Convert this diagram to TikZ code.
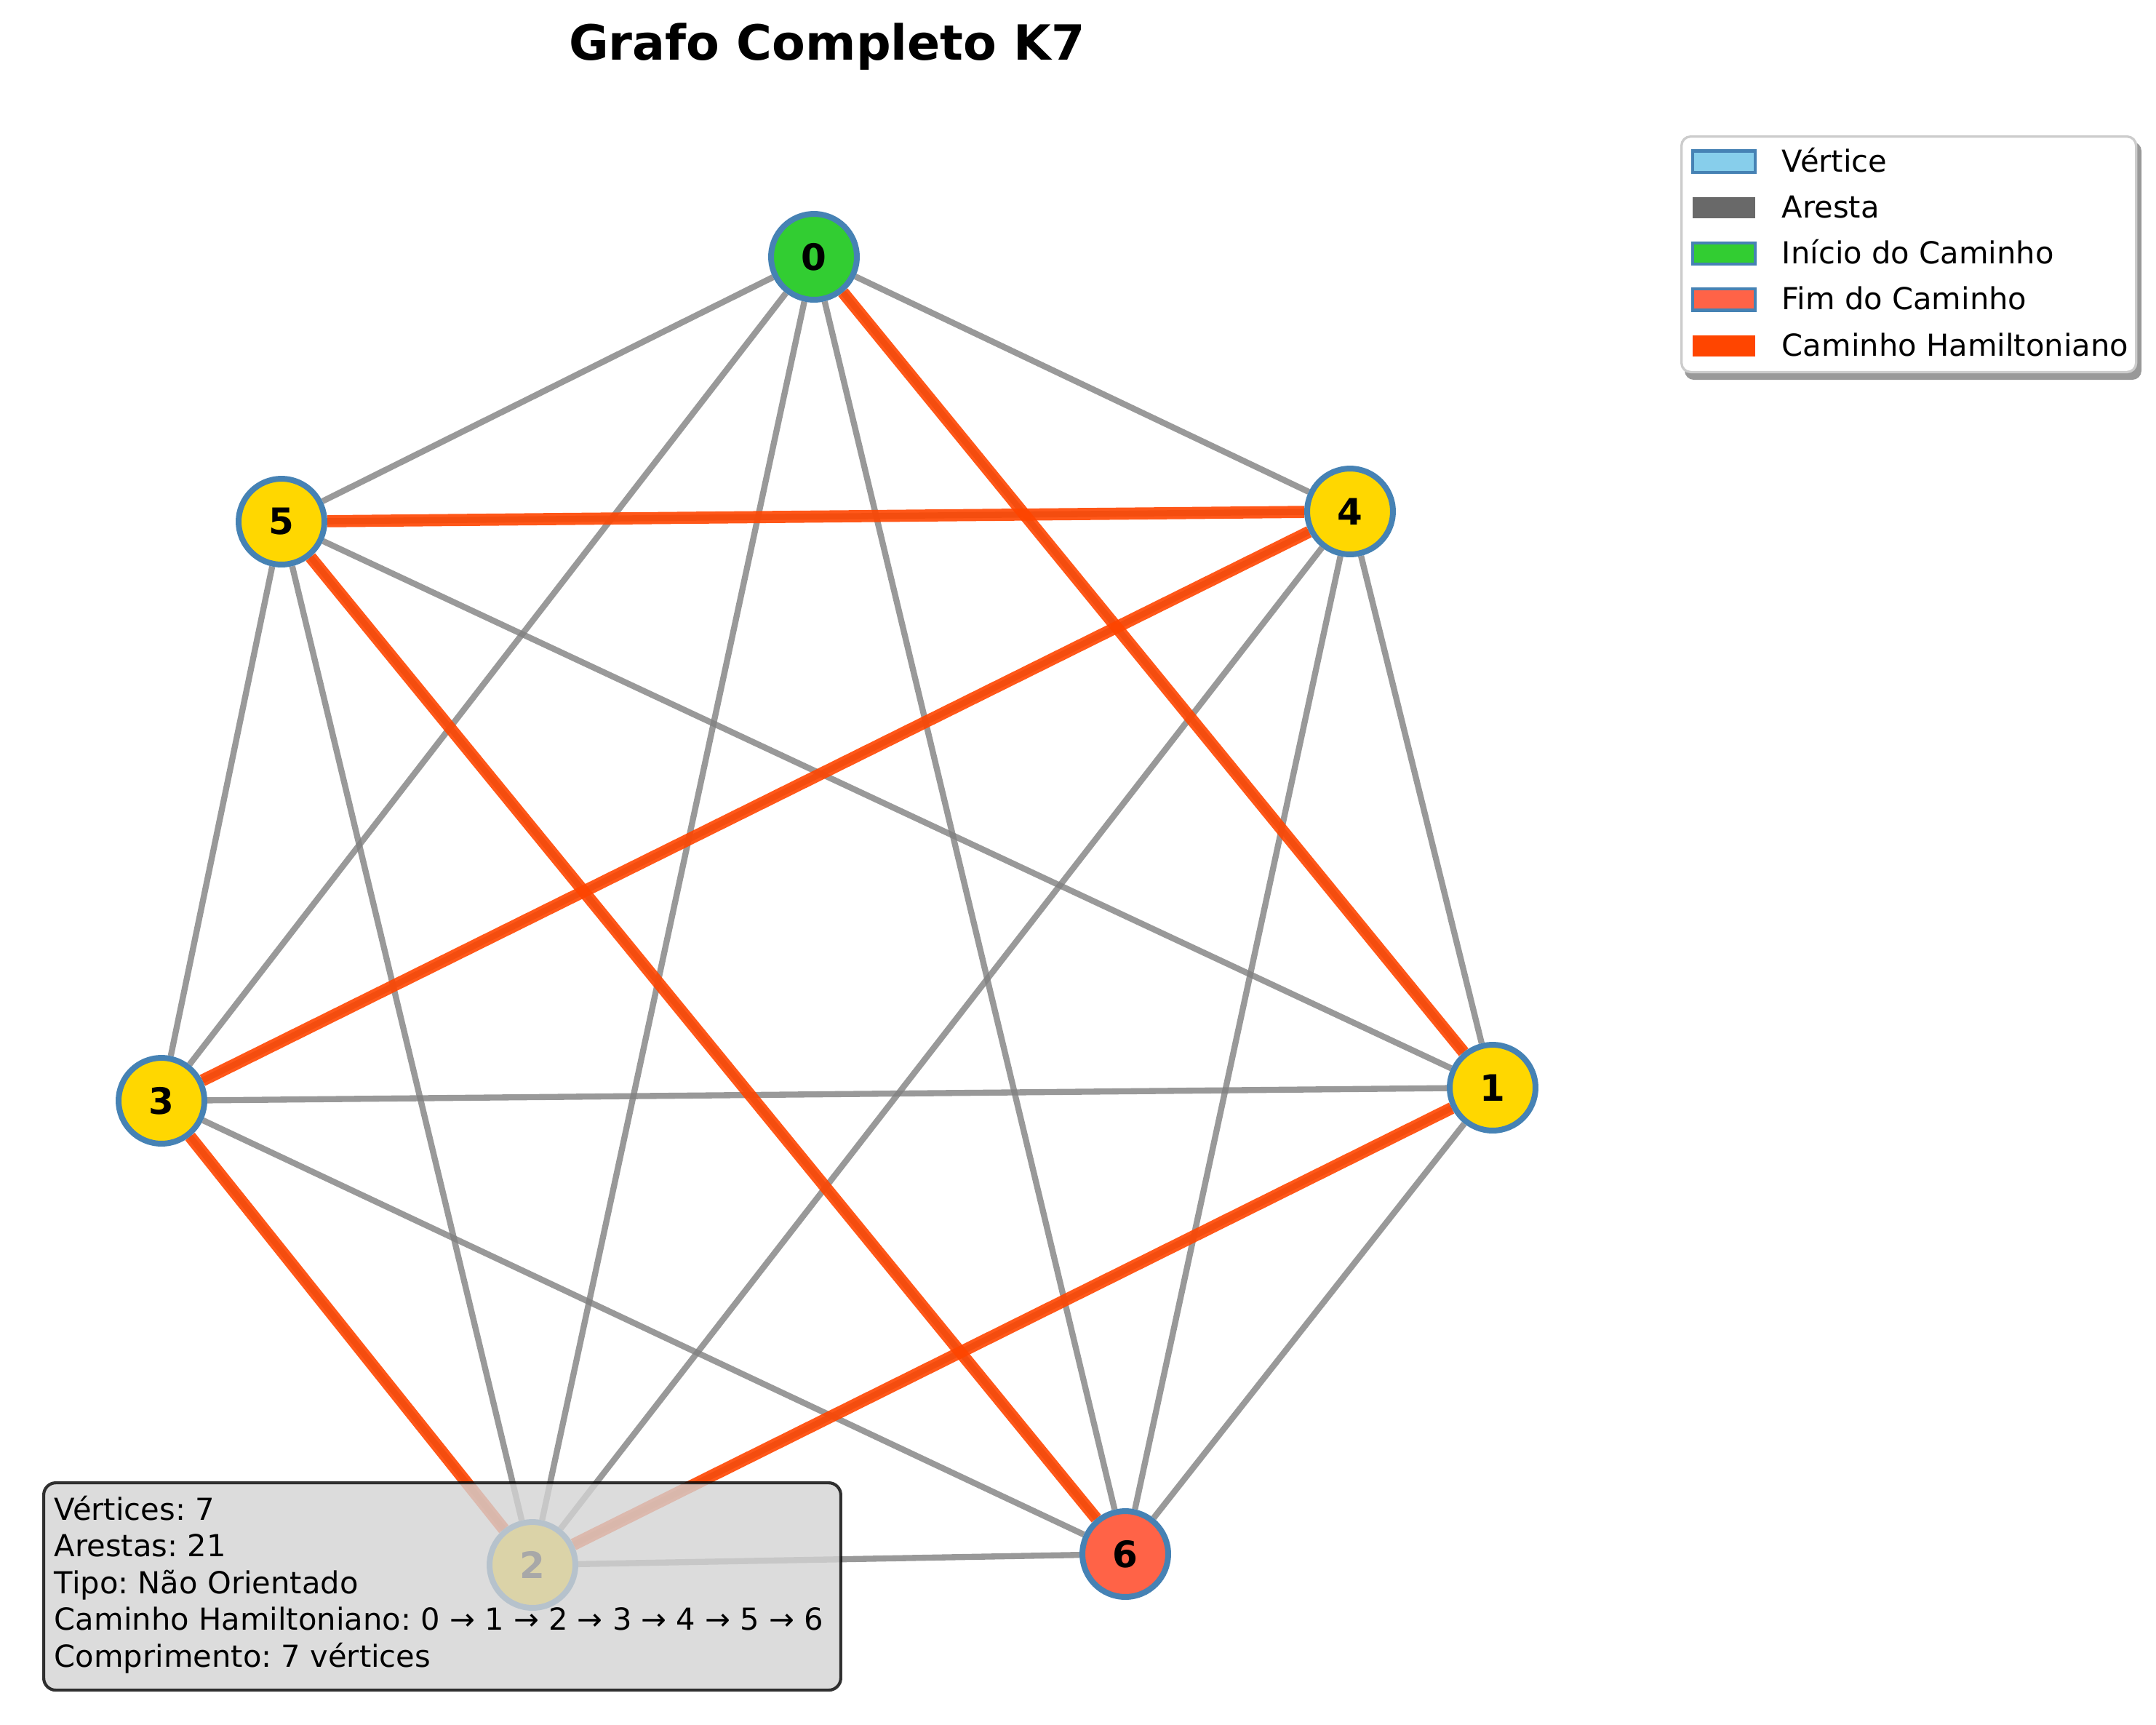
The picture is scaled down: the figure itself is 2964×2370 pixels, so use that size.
\documentclass[tikz,border=0pt]{standalone}
\usepackage{fontspec}
\setmainfont{DejaVu Sans}
\usepackage{tikz}
\usetikzlibrary{backgrounds}
\frenchspacing
\definecolor{gold}{RGB}{255,215,0}
\definecolor{steelblue}{RGB}{70,130,180}
\definecolor{limegreen}{RGB}{50,205,50}
\definecolor{tomato}{RGB}{255,99,71}
\definecolor{orangered}{RGB}{255,69,0}
\definecolor{skyblue}{RGB}{135,206,235}
\definecolor{dimgrey}{RGB}{105,105,105}
\definecolor{lightgrey}{RGB}{211,211,211}
\definecolor{edgegrey}{RGB}{128,128,128}
\definecolor{framegrey}{RGB}{204,204,204}

\tikzset{
  vertex/.style={circle, draw=steelblue, line width=1.92pt, fill=gold,
    minimum size=28.3pt, inner sep=0pt, font=\fontsize{12}{14}\selectfont\bfseries},
  aresta/.style={draw=edgegrey, draw opacity=0.8, line width=2pt},
  caminho/.style={draw=orangered, draw opacity=0.9, line width=4pt},
  patch/.style={rectangle, minimum width=20.6pt, minimum height=7pt, inner sep=0pt, line width=1pt},
  smalltext/.style={anchor=base west, inner sep=0pt, font=\fontsize{10}{12}\selectfont}
}

\begin{document}
\begin{tikzpicture}[x=0.24pt,y=-0.24pt]
    \useasboundingbox (0,0) rectangle (2964,2370);
    % title
    \node[anchor=base, font=\fontsize{16}{19}\selectfont\bfseries] (titulo) at (1137,82) {Grafo Completo K7};
    % vertices
    \node[vertex, fill=limegreen] (v0) at (1119,353) {0};
    \node[vertex] (v1) at (2052,1495) {1};
    \node[vertex] (v2) at (732,2151) {2};
    \node[vertex] (v3) at (222,1513) {3};
    \node[vertex] (v4) at (1856,703) {4};
    \node[vertex] (v5) at (387,717) {5};
    \node[vertex, fill=tomato] (v6) at (1547,2136) {6};
    % loop over all pairs of vertices
    \begin{pgfonlayer}{background}
      \foreach \i in {0,...,6}
        \foreach \j in {0,...,6}{
          \ifnum \i < \j
            \draw[aresta] (v\i) -- (v\j);
          \fi
        };
      % hamiltonian path
      \foreach \a/\b in {0/1,1/2,2/3,3/4,4/5,5/6}
        \draw[caminho] (v\a) -- (v\b);
    \end{pgfonlayer}
    % info box
    \node[rectangle, rounded corners=4pt, fill=lightgrey, fill opacity=0.8,
      draw=black, draw opacity=0.8, line width=1pt, inner sep=0pt,
      minimum width=263pt, minimum height=68.4pt, anchor=north west] (infobox) at (58,2036) {};
    \foreach \t [count=\k] in {Vértices: 7, Arestas: 21, Tipo: Não Orientado,
        Caminho Hamiltoniano: 0 → 1 → 2 → 3 → 4 → 5 → 6, Comprimento: 7 vértices}
      \node[smalltext] (info\k) at (74,{2089+50.5*(\k-1)}) {\t};
    % legend
    \fill[black!40, rounded corners=3pt] (2316,195) rectangle (2944,522);
    \node[rectangle, rounded corners=3pt, fill=white, draw=framegrey, line width=0.8pt,
      minimum width=150pt, minimum height=77.7pt, inner sep=0pt, anchor=north west] (legenda) at (2310,186) {};
    \foreach \k/\fc/\ec/\t in {0/skyblue/steelblue/Vértice, 1/dimgrey/none/Aresta,
        2/limegreen/steelblue/Início do Caminho, 3/tomato/steelblue/Fim do Caminho,
        4/orangered/none/Caminho Hamiltoniano}{
      \node[patch, fill=\fc, draw=\ec] (patch\k) at (2370,{222+63.3*\k}) {};
      \node[smalltext] (leg\k) at (2449,{236+63.3*\k}) {\t};
    };
\end{tikzpicture}
\end{document}
